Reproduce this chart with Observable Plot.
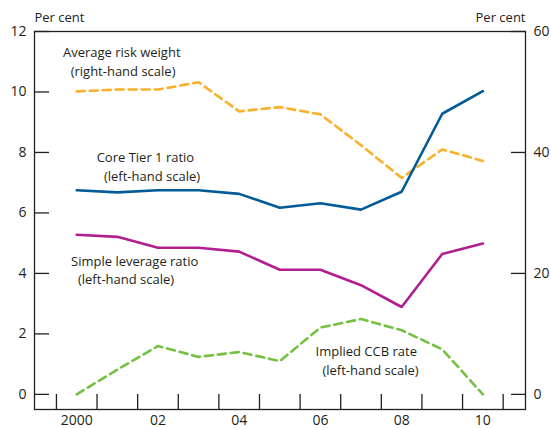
<!DOCTYPE html>
<html>
<head>
<meta charset="utf-8">
<script src="https://cdn.jsdelivr.net/npm/d3@7"></script>
<script src="https://cdn.jsdelivr.net/npm/@observablehq/plot@0.6"></script>
<style>
  html, body { margin: 0; padding: 0; background: #fff; }
</style>
</head>
<body>
<div id="chart"></div>
<script>
const years = [2000, 2001, 2002, 2003, 2004, 2005, 2006, 2007, 2008, 2009, 2010];
const coreTier1 = [6.75, 6.68, 6.75, 6.75, 6.63, 6.17, 6.32, 6.11, 6.70, 9.28, 10.03];
const riskWeight = [50.1, 50.4, 50.4, 51.6, 46.8, 47.5, 46.3, 41.2, 35.8, 40.5, 38.6]; // right-hand scale
const leverage = [5.28, 5.21, 4.85, 4.85, 4.72, 4.12, 4.12, 3.61, 2.89, 4.64, 4.99];
const ccb = [0.0, 0.82, 1.60, 1.24, 1.40, 1.10, 2.21, 2.49, 2.12, 1.49, 0.0];

const leftTicks = [0, 2, 4, 6, 8, 10, 12];
const rightTicks = [0, 20, 40, 60];
const xLabelYears = [2000, 2002, 2004, 2006, 2008, 2010];
const xLabelText = ["2000", "02", "04", "06", "08", "10"];
const xTickBounds = [1999.5, 2000.5, 2001.5, 2002.5, 2003.5, 2004.5, 2005.5, 2006.5, 2007.5, 2008.5, 2009.5, 2010.5];

const rightFactor = 5; // right scale = left scale * 5

const annotations = [
  {x: 1999.66, y: 11.30, text: "Average risk weight"},
  {x: 1999.85, y: 10.67, text: "(right-hand scale)"},
  {x: 2000.49, y: 7.82, text: "Core Tier 1 ratio"},
  {x: 2000.67, y: 7.19, text: "(left-hand scale)"},
  {x: 1999.86, y: 4.39, text: "Simple leverage ratio"},
  {x: 2000.03, y: 3.78, text: "(left-hand scale)"},
  {x: 2005.88, y: 1.40, text: "Implied CCB rate"},
  {x: 2006.05, y: 0.77, text: "(left-hand scale)"}
];

const toRows = vals => years.map((yr, i) => ({year: yr, value: vals[i]}));
const textColor = "#231f20";

const chart = Plot.plot({
  width: 551,
  height: 428,
  marginLeft: 34,
  marginRight: 26,
  marginTop: 31,
  marginBottom: 19,
  style: {fontFamily: "Open Sans", fontSize: "14px", color: textColor, background: "#fff"},
  x: {domain: [1998.96, 2011.05], axis: null},
  y: {domain: [-0.5, 12], axis: null},
  marks: [
    Plot.frame({stroke: textColor, strokeWidth: 1.3}),
    Plot.axisY({anchor: "left", ticks: leftTicks, tickSize: -15, tickPadding: 23, tickFormat: d => String(d), label: null, stroke: textColor, strokeWidth: 1.3, fill: textColor}),
    Plot.axisY({anchor: "right", ticks: rightTicks.map(v => v / rightFactor), tickSize: -15, tickPadding: 23, tickFormat: d => String(Math.round(d * rightFactor)), label: null, stroke: textColor, strokeWidth: 1.3, fill: textColor}),
    Plot.axisX({anchor: "bottom", ticks: xTickBounds, tickSize: -15, tickFormat: () => "", label: null, stroke: textColor, strokeWidth: 1.3}),
    Plot.axisX({anchor: "bottom", ticks: xLabelYears, tickSize: 0, tickPadding: 6, tickFormat: d => xLabelText[xLabelYears.indexOf(d)], label: null, fill: textColor}),
    Plot.text(["Per cent"], {frameAnchor: "top-left", dy: -14, textAnchor: "start", lineAnchor: "middle", fontSize: 13, fill: textColor}),
    Plot.text(["Per cent"], {frameAnchor: "top-right", dy: -14, textAnchor: "end", lineAnchor: "middle", fontSize: 13, fill: textColor}),
    Plot.line(toRows(riskWeight.map(v => v / rightFactor)), {x: "year", y: "value", stroke: "#f9b12b", strokeWidth: 2.6, strokeDasharray: "8,5"}),
    Plot.line(toRows(ccb), {x: "year", y: "value", stroke: "#74c043", strokeWidth: 2.6, strokeDasharray: "8,5"}),
    Plot.line(toRows(leverage), {x: "year", y: "value", stroke: "#b01e8f", strokeWidth: 2.6}),
    Plot.line(toRows(coreTier1), {x: "year", y: "value", stroke: "#005b96", strokeWidth: 2.6}),
    Plot.text(annotations, {x: "x", y: "y", text: "text", textAnchor: "start", lineAnchor: "middle", fontSize: 13, fill: textColor})
  ]
});
document.getElementById("chart").appendChild(chart);
</script>
</body>
</html>
